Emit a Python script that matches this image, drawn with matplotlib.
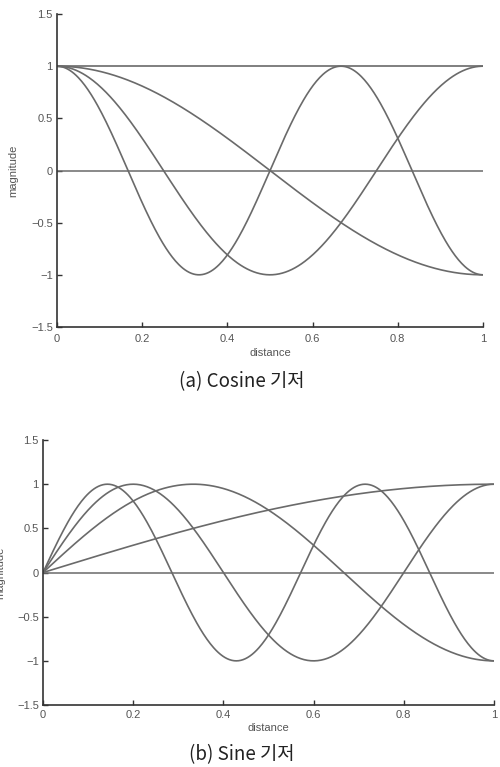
import numpy as np
import matplotlib.pyplot as plt

# basis frequencies (multiples of pi)
cos_freqs = [0, 1, 2, 3]
sin_freqs = [0.5, 1.5, 2.5, 3.5]
x_ticks = [0, 0.2, 0.4, 0.6, 0.8, 1]
y_ticks = [-1.5, -1, -0.5, 0, 0.5, 1, 1.5]
captions = ['(a) Cosine 기저', '(b) Sine 기저']

x = np.linspace(0, 1, 400)
line_color = '#6a6a6a'

plt.rcParams['font.family'] = ['Liberation Sans', 'DejaVu Sans']

fig = plt.figure(figsize=(5, 7.67), dpi=100)
ax1 = fig.add_axes([0.114, 0.5737, 0.852, 0.408])
ax2 = fig.add_axes([0.086, 0.0808, 0.902, 0.3455])


def style(ax, xpad, lpad):
    ax.set_xlim(0, 1)
    ax.set_ylim(-1.5, 1.5)
    ax.set_xticks(x_ticks)
    ax.set_yticks(y_ticks)
    ax.set_xticklabels(['0', '0.2', '0.4', '0.6', '0.8', '1'])
    ax.set_yticklabels(['\u22121.5', '\u22121', '\u22120.5', '0', '0.5', '1', '1.5'])
    for s in ['top', 'right']:
        ax.spines[s].set_visible(False)
    for s in ['left', 'bottom']:
        ax.spines[s].set_color('#333333')
        ax.spines[s].set_linewidth(1.2)
    ax.tick_params(direction='in', length=3.5, width=1, labelsize=8,
                   colors='#333333', labelcolor='#555555')
    ax.tick_params(axis='x', pad=xpad)
    ax.tick_params(axis='y', pad=3)
    ax.set_xlabel('distance', fontsize=8, color='#555555', labelpad=lpad)
    ax.set_ylabel('magnitude', fontsize=8, color='#555555')
    ax.axhline(0, color=line_color, lw=1.1)


style(ax1, 5, 3)
for k in cos_freqs:
    ax1.plot(x, np.cos(k * np.pi * x), color=line_color, lw=1.2)
ax1.yaxis.set_label_coords(-0.09, 0.5)

style(ax2, 3.5, 2)
for k in sin_freqs:
    ax2.plot(x, np.sin(k * np.pi * x), color=line_color, lw=1.2)
ax2.yaxis.set_label_coords(-0.084, 0.5)

fig.text(0.484, 0.502, captions[0], ha='center', va='center', fontsize=13.5,
         color='#222222', fontweight='light',
         family=['Noto Sans CJK KR', 'DejaVu Sans'])
fig.text(0.484, 0.016, captions[1], ha='center', va='center', fontsize=13.5,
         color='#222222', fontweight='light',
         family=['Noto Sans CJK KR', 'DejaVu Sans'])

fig.savefig('out.png', dpi=100)
